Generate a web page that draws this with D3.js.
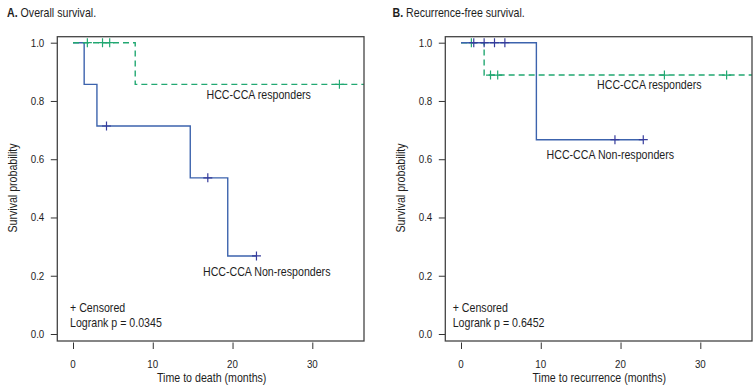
<!DOCTYPE html>
<html><head><meta charset="utf-8">
<script src="https://cdn.jsdelivr.net/npm/d3@7"></script>
<style>
body{margin:0;background:#fff;}
text{font-family:"Liberation Sans",Arial,sans-serif;fill:#1e1e1e;}
</style></head><body>
<svg id="c" width="753" height="387"></svg>
<script>
// ---- data ----
const xTicks = [0, 10, 20, 30];
const yTicks = [0.0, 0.2, 0.4, 0.6, 0.8, 1.0];
// Panel A: overall survival
const osNonTimes = [0, 1.4, 3.0, 14.7, 19.4];
const osNonSurv  = [1, 0.857, 0.714, 0.536, 0.268];
const osNonEnd = 23.0;
const osNonCens = [4.2, 16.9, 23.0];
const osRespTimes = [0, 7.8];
const osRespSurv  = [1, 0.857];
const osRespEnd = 38;
const osRespCens = [1.8, 3.7, 4.6, 33.4];
// Panel B: recurrence-free survival
const rfsNonTimes = [0, 9.45];
const rfsNonSurv  = [1, 0.667];
const rfsNonEnd = 22.85;
const rfsNonCens = [1.6, 2.9, 4.2, 5.5, 19.3, 22.85];
const rfsRespTimes = [0, 2.9];
const rfsRespSurv  = [1, 0.889];
const rfsRespEnd = 38;
const rfsRespCens = [1.3, 3.7, 4.6, 25.5, 33.3];

const blue = "#3c63ad", blueMark = "#363c9c", green = "#22a872";
const SX = 0.85;
const svg = d3.select("#c");

function survAt(times, surv, t){ let s = surv[0]; for(let i=0;i<times.length;i++){ if(times[i]<=t) s = surv[i]; } return s; }

function txt(g, x, y, str, anchor, size, rot){
  const gg = g.append("g").attr("transform",`translate(${x},${y})`+(rot?` rotate(${rot})`:""));
  return gg.append("text").attr("transform",`scale(${SX},1)`).attr("text-anchor",anchor||"start")
    .style("font-size",size+"px").text(str);
}

function panel(o){
  const g = svg.append("g");
  const x = d3.scaleLinear().domain([0,30]).range([o.x0, o.x30]);
  const y = d3.scaleLinear().domain([0,1]).range([334, 42.7]);
  const left = o.boxL, right = o.boxR, top = 36.7, bottom = 341;
  const cid = "clip"+o.id;
  g.append("clipPath").attr("id",cid).append("rect").attr("x",left).attr("y",top).attr("width",right-left).attr("height",bottom-top);

  // title
  const t = txt(g, o.titleX, 17, "", "start", 12.5);
  t.append("tspan").style("font-weight","bold").text(o.letter+" ");
  t.append("tspan").text(o.title);

  // y axis
  const ya = g.append("g").attr("transform",`translate(${left},0)`)
    .call(d3.axisLeft(y).tickValues(yTicks).tickFormat("").tickSize(6.5));
  ya.select(".domain").remove();
  ya.selectAll("line").attr("stroke","#333");
  yTicks.forEach(v=>txt(g, left-13, y(v)+4, d3.format(".1f")(v), "end", 11.5));
  // x axis
  const xa = g.append("g").attr("transform",`translate(0,${bottom+1.5})`)
    .call(d3.axisBottom(x).tickValues(xTicks).tickFormat("").tickSize(6.5));
  xa.select(".domain").remove();
  xa.selectAll("line").attr("stroke","#333");
  xTicks.forEach(v=>txt(g, x(v), 368, String(v), "middle", 11.5));

  // axis titles
  txt(g, o.ylabX, 188, "Survival probability", "middle", 12.5, -90);
  txt(g, o.xlabX, 381.5, o.xlab, "middle", 12.5);

  const plot = g.append("g").attr("clip-path",`url(#${cid})`);
  function curve(times, surv, end, cens, col, mcol, dash){
    let d = "";
    for(let i=0;i<times.length;i++){
      const x1 = x(times[i]), x2 = x(i+1<times.length?times[i+1]:end);
      if(i===0) d += `M${x1},${y(surv[i])}`; else d += `V${y(surv[i])}`;
      d += `H${x2}`;
    }
    plot.append("path").attr("d",d).attr("fill","none").attr("stroke",col).attr("stroke-width",1.4)
      .attr("stroke-dasharray",dash||null);
    plot.selectAll(null).data(cens).enter().append("path")
      .attr("transform",c=>`translate(${x(c)},${y(survAt(times,surv,c))})`)
      .attr("d","M-4.5,0H4.5M0,-4.5V4.5").attr("stroke",mcol).attr("stroke-width",1.2);
  }
  o.draw(curve);

  // labels
  txt(g, o.respLab[0], o.respLab[1], "HCC-CCA responders", "middle", 12.5);
  txt(g, o.nonLab[0], o.nonLab[1], "HCC-CCA Non-responders", "middle", 12.5);
  txt(g, o.noteX, 311.5, "+ Censored", "start", 12.5);
  txt(g, o.noteX, 326.5, "Logrank p = "+o.p, "start", 12.5);

  // box
  g.append("rect").attr("x",left).attr("y",top).attr("width",right-left).attr("height",bottom-top)
    .attr("fill","none").attr("stroke","#444").attr("stroke-width",1.3);
}

panel({id:"A", letter:"A.", title:"Overall survival.", titleX:7, x0:73, x30:312.3, boxL:57.3, boxR:364,
  ylabX:16.5, xlabX:211.7, xlab:"Time to death (months)", p:"0.0345", noteX:70,
  respLab:[258.7,99.3], nonLab:[266.7,276], 
  draw:(curve)=>{
    curve(osNonTimes, osNonSurv, osNonEnd, osNonCens, blue, blueMark);
    curve(osRespTimes, osRespSurv, osRespEnd, osRespCens, green, green, "6,4");
  }});
panel({id:"B", letter:"B.", title:"Recurrence-free survival.", titleX:392.5, x0:461, x30:700.3, boxL:445.3, boxR:752,
  ylabX:404.5, xlabX:599.3, xlab:"Time to recurrence (months)", p:"0.6452", noteX:452.7,
  respLab:[649.3,88.5], nonLab:[610.3,158.5],
  draw:(curve)=>{
    curve(rfsRespTimes, rfsRespSurv, rfsRespEnd, rfsRespCens, green, green, "6,4");
    curve(rfsNonTimes, rfsNonSurv, rfsNonEnd, rfsNonCens, blue, blueMark);
  }});
</script></body></html>
